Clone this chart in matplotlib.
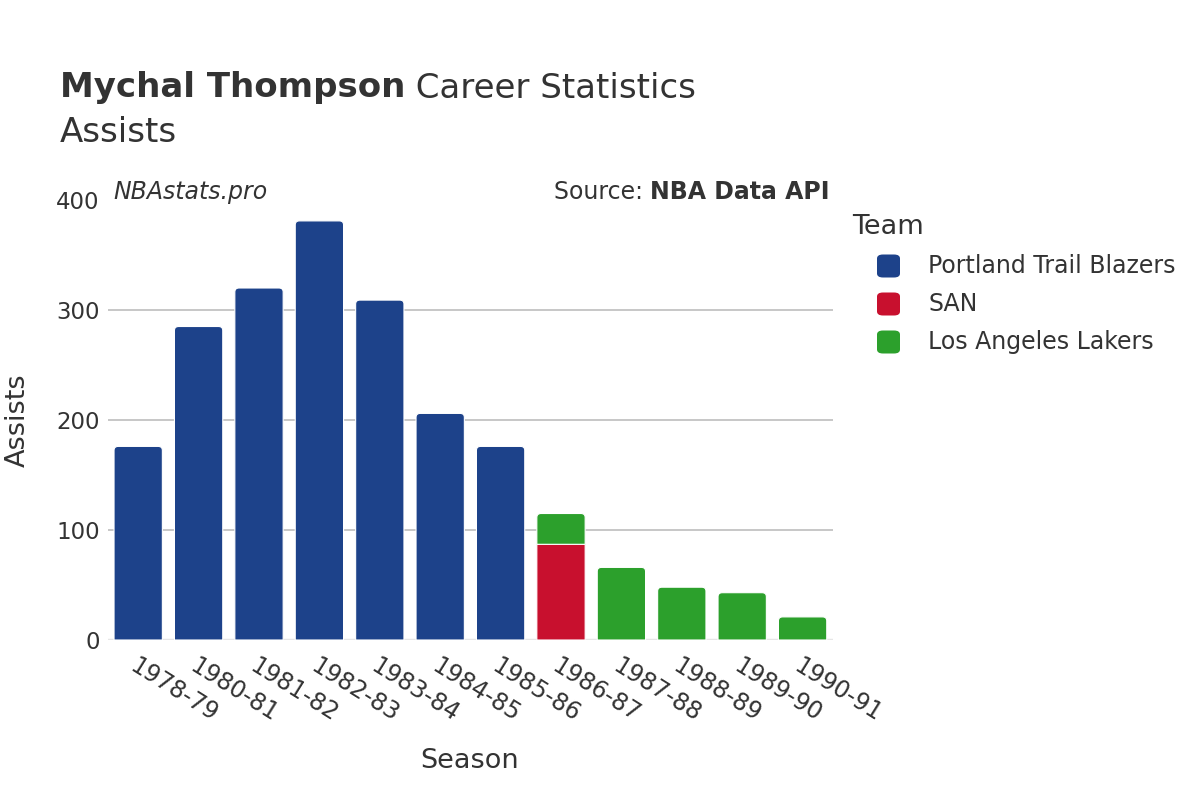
"""Mychal Thompson career assists per season, stacked by team."""

import matplotlib.pyplot as plt
import numpy as np
from matplotlib.patches import FancyBboxPatch, PathPatch
from matplotlib.path import Path

seasons = ["1978-79", "1980-81", "1981-82", "1982-83", "1983-84", "1984-85",
           "1985-86", "1986-87", "1987-88", "1988-89", "1989-90", "1990-91"]
teams = ["Portland Trail Blazers", "SAN", "Los Angeles Lakers"]
team_colors = ["#1d428a", "#c8102e", "#2ca02c"]
portland = [176, 285, 320, 381, 309, 206, 176, 0, 0, 0, 0, 0]
san = [0, 0, 0, 0, 0, 0, 0, 87, 0, 0, 0, 0]
lakers = [0, 0, 0, 0, 0, 0, 0, 28, 66, 48, 43, 21]
y_ticks = [0, 100, 200, 300, 400]

TEXT = "#333333"
plt.rcParams["font.family"] = ["DejaVu Sans"]


def bar_patch(ax, x, bottom, height, width, color, rx, ry):
    """Bar with rounded top corners (rx, ry > 0) or square ones, in data coordinates."""
    l, r = x - width / 2, x + width / 2
    b, t = bottom, bottom + height
    ry = min(ry, height / 2)
    verts = [(l, b), (l, t - ry), (l, t), (l + rx, t), (r - rx, t), (r, t),
             (r, t - ry), (r, b), (l, b)]
    codes = [Path.MOVETO, Path.LINETO, Path.CURVE3, Path.CURVE3, Path.LINETO,
             Path.CURVE3, Path.CURVE3, Path.LINETO, Path.CLOSEPOLY]
    ax.add_patch(PathPatch(Path(verts, codes), facecolor=color,
                           edgecolor="white", linewidth=0.8, zorder=3))


fig = plt.figure(figsize=(12, 8), dpi=100)
ax = fig.add_axes([0.09, 0.2, 0.604, 0.55])
renderer = fig.canvas.get_renderer()

x = np.arange(len(seasons))
series = [np.array(s, dtype=float) for s in (portland, san, lakers)]
bottoms = np.zeros(len(seasons))
for k, (vals, color) in enumerate(zip(series, team_colors)):
    for i, v in enumerate(vals):
        if v <= 0:
            continue
        is_top = all(s[i] == 0 for s in series[k + 1:])
        r = (0.07, 3.6) if is_top else (0.0, 0.0)
        bar_patch(ax, x[i], bottoms[i], v, 0.8, color, *r)
    bottoms += vals

ax.set_xlim(-0.5, len(seasons) - 0.5)
ax.set_ylim(0, 400)
ax.set_yticks(y_ticks)
ax.set_xticks(x)
ax.set_xticklabels(seasons, rotation=-32, ha="left", va="top",
                   rotation_mode="anchor", fontsize=17, color=TEXT)
ax.tick_params(axis="x", length=0, pad=10)
ax.tick_params(axis="y", length=0, pad=6, labelsize=16.5, labelcolor=TEXT)
for t in y_ticks[1:4]:
    ax.axhline(t, color="#bdbdbd", linewidth=1.2, zorder=1)
ax.axhline(0, color="#e6e6e6", linewidth=2.5, zorder=2)
for s in ax.spines.values():
    s.set_visible(False)

fig.text(470 / 1200, 1 - 761 / 800, "Season", fontsize=19.5, color=TEXT,
         ha="center", va="center")
fig.text(18 / 1200, 1 - 420 / 800, "Assists", fontsize=19.5, color=TEXT,
         ha="center", va="center", rotation=90)


def text_run(x0, y0, parts, **kw):
    """Place text pieces one after another on a line, starting at figure x0."""
    xpos = x0
    for s, weight in parts:
        t = fig.text(xpos, y0, s, fontweight=weight, color=TEXT, va="center", **kw)
        bb = t.get_window_extent(renderer)
        xpos += bb.width / fig.bbox.width
    return xpos


text_run(0.05, 1 - 88 / 800, [("Mychal Thompson", "bold"), (" Career Statistics", "normal")],
         fontsize=24.5)
fig.text(0.05, 1 - 132 / 800, "Assists", fontsize=24.5, color=TEXT, va="center")

fig.text(113 / 1200, 1 - 192 / 800, "NBAstats.pro", fontsize=17, style="italic",
         color=TEXT, va="center")
# right-aligned source line: measure then place
probe_a = fig.text(0, 0, "Source: ", fontsize=17)
probe_b = fig.text(0, 0, "NBA Data API", fontsize=17, fontweight="bold")
w = (probe_a.get_window_extent(renderer).width + probe_b.get_window_extent(renderer).width)
probe_a.remove()
probe_b.remove()
text_run(830 / 1200 - w / fig.bbox.width, 1 - 192 / 800,
         [("Source: ", "normal"), ("NBA Data API", "bold")], fontsize=17)

# legend drawn by hand
fig.text(852 / 1200, 1 - 227 / 800, "Team", fontsize=19.5, color=TEXT, va="center")
for k, (name, color) in enumerate(zip(teams, team_colors)):
    yc = 1 - (266 + 38 * k) / 800
    fig.patches.append(FancyBboxPatch((877 / 1200, yc - 11.5 / 800), 23 / 1200, 23 / 800,
                                      boxstyle="round,pad=0,rounding_size=0.005",
                                      transform=fig.transFigure, facecolor=color,
                                      edgecolor="none", figure=fig))
    fig.text(928 / 1200, yc, name, fontsize=17, color=TEXT, va="center")

fig.savefig("out.png", dpi=100, facecolor="white")
